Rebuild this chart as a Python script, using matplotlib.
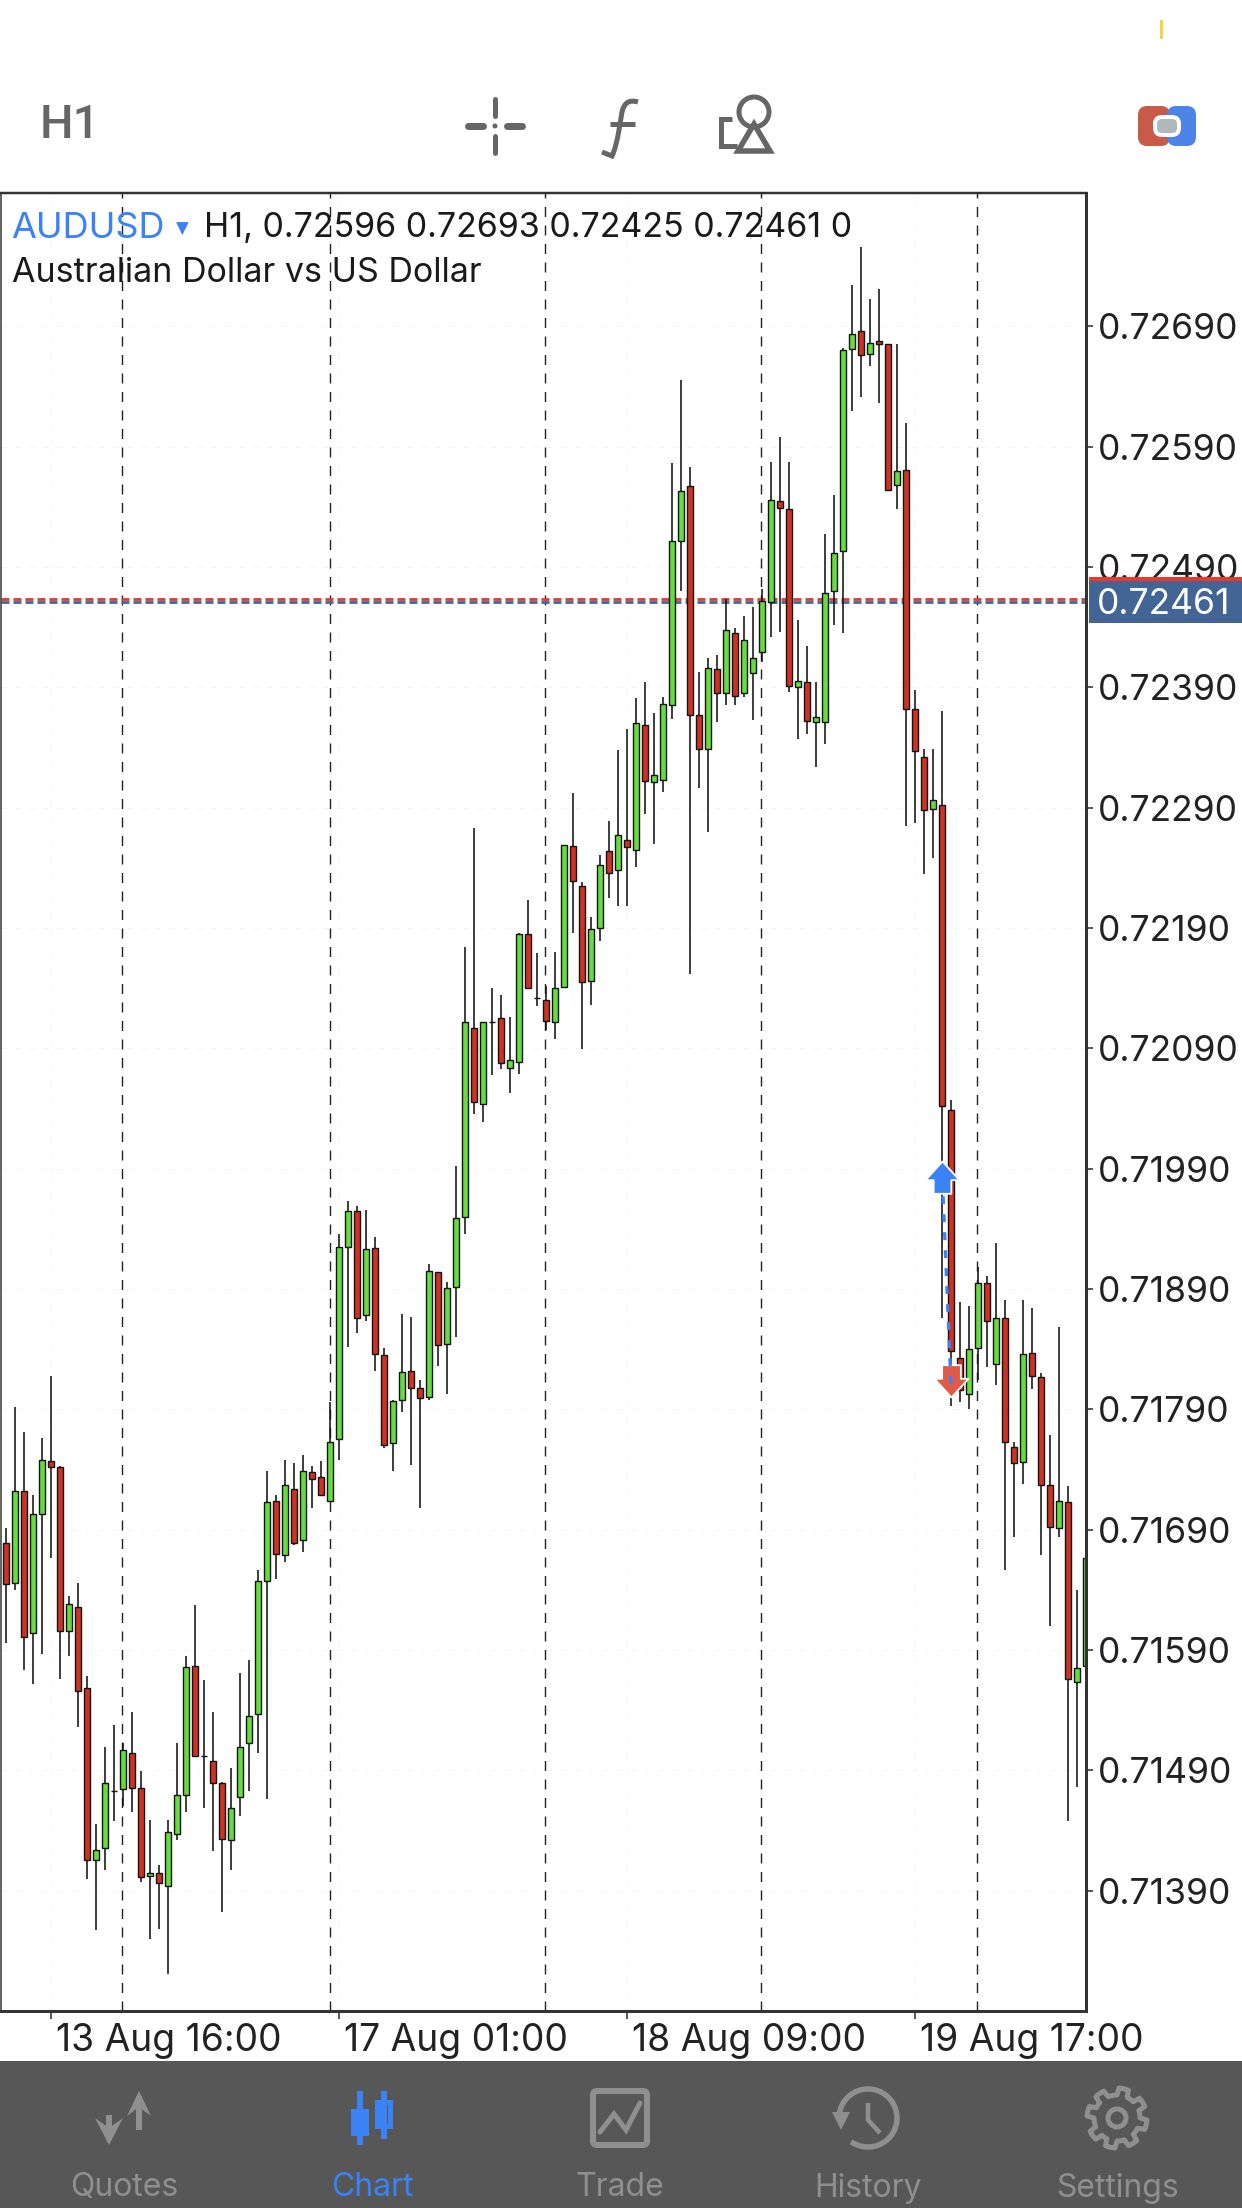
import numpy as np
import matplotlib
matplotlib.use("Agg")
import matplotlib.pyplot as plt
from matplotlib.path import Path
from matplotlib.patches import Rectangle, FancyBboxPatch, Circle, Polygon, PathPatch

plt.rcParams['font.family'] = ['Inter', 'DejaVu Sans']
plt.rcParams['lines.scale_dashes'] = False

PX = 0.72  # one image pixel in points at dpi 100

# candle prices in 1/100000 of a dollar
opens = [71679, 71646, 71722, 71604, 71703, 71747, 71742, 71606, 71626, 71558,
         71415, 71425, 71473, 71474, 71504, 71475, 71402, 71405, 71394, 71437,
         71469, 71577, 71502, 71498, 71479, 71432, 71468, 71513, 71537, 71647,
         71714, 71669, 71724, 71681, 71738, 71734, 71714, 71765, 71925, 71955,
         71868, 71924, 71835, 71762, 71798, 71822, 71808, 71800, 71904, 71844,
         71892, 71950, 72107, 72044, 72112, 72115, 72074, 72079, 72185, 72132,
         72130, 72112, 72141, 72258, 72225, 72146, 72190, 72254, 72238, 72263,
         72255, 72359, 72311, 72313, 72375, 72512, 72557, 72367, 72339, 72405,
         72385, 72435, 72385, 72402, 72419, 72461, 72545, 72538, 72390, 72394,
         72361, 72361, 72470, 72503, 72671, 72686, 72667, 72678, 72675, 72558,
         72571, 72372, 72332, 72289, 72292, 72039, 71833, 71803, 71841, 71895,
         71828, 71866, 71759, 71746, 71837, 71817, 71727, 71691, 71713, 71563,
         71577]
closes = [71645, 71722, 71601, 71703, 71748, 71742, 71606, 71628, 71556, 71415,
          71424, 71479, 71473, 71507, 71475, 71401, 71405, 71396, 71439, 71469,
          71576, 71502, 71502, 71479, 71433, 71459, 71509, 71535, 71647, 71713,
          71670, 71727, 71679, 71739, 71732, 71719, 71763, 71925, 71955, 71866,
          71923, 71836, 71760, 71797, 71821, 71808, 71799, 71905, 71843, 71891,
          71949, 72112, 72045, 72112, 72112, 72078, 72080, 72185, 72140, 72132,
          72113, 72140, 72259, 72229, 72145, 72189, 72242, 72236, 72267, 72257,
          72360, 72312, 72317, 72376, 72512, 72553, 72367, 72339, 72406, 72385,
          72438, 72383, 72429, 72414, 72462, 72546, 72539, 72391, 72395, 72362,
          72365, 72468, 72502, 72670, 72684, 72666, 72676, 72675, 72554, 72570,
          72372, 72337, 72288, 72296, 72042, 71838, 71806, 71840, 71895, 71863,
          71866, 71763, 71745, 71836, 71818, 71727, 71692, 71714, 71566, 71575,
          71666]
highs = [71691, 71792, 71771, 71719, 71766, 71818, 71743, 71635, 71646, 71568,
         71445, 71509, 71528, 71513, 71538, 71489, 71449, 71411, 71449, 71513,
         71585, 71627, 71565, 71538, 71480, 71492, 71571, 71582, 71656, 71739,
         71719, 71748, 71745, 71752, 71743, 71747, 71796, 71936, 71963, 71959,
         71956, 71933, 71841, 71798, 71869, 71867, 71814, 71911, 71904, 71896,
         71992, 72174, 72273, 72112, 72140, 72134, 72116, 72186, 72213, 72169,
         72142, 72170, 72259, 72302, 72228, 72199, 72251, 72279, 72338, 72355,
         72381, 72394, 72369, 72382, 72576, 72645, 72573, 72403, 72414, 72417,
         72463, 72439, 72449, 72457, 72472, 72577, 72598, 72577, 72446, 72424,
         72394, 72517, 72550, 72672, 72724, 72756, 72713, 72721, 72675, 72675,
         72610, 72388, 72339, 72339, 72370, 72047, 71879, 71876, 71908, 71901,
         71928, 71881, 71763, 71881, 71874, 71820, 71769, 71858, 71726, 71640,
         71666]
lows = [71596, 71640, 71573, 71562, 71587, 71666, 71566, 71585, 71526, 71400,
        71357, 71407, 71448, 71460, 71455, 71397, 71350, 71358, 71321, 71432,
        71455, 71502, 71459, 71423, 71372, 71407, 71452, 71473, 71504, 71466,
        71649, 71663, 71677, 71671, 71708, 71718, 71714, 71748, 71842, 71853,
        71863, 71822, 71758, 71739, 71788, 71744, 71708, 71798, 71826, 71803,
        71850, 71936, 72035, 72029, 72068, 72073, 72053, 72069, 72140, 72125,
        72105, 72098, 72141, 72186, 72089, 72126, 72179, 72215, 72208, 72208,
        72241, 72285, 72260, 72303, 72364, 72470, 72152, 72306, 72270, 72361,
        72375, 72375, 72382, 72363, 72411, 72432, 72436, 72386, 72347, 72351,
        72324, 72343, 72442, 72435, 72620, 72631, 72657, 72626, 72554, 72538,
        72275, 72277, 72235, 72248, 71866, 71793, 71796, 71790, 71814, 71825,
        71810, 71656, 71684, 71728, 71807, 71669, 71610, 71684, 71448, 71476,
        71577]

y_ticks = [0.71390, 0.71490, 0.71590, 0.71690, 0.71790, 0.71890, 0.71990,
           0.72090, 0.72190, 0.72290, 0.72390, 0.72490, 0.72590, 0.72690]
x_tick_bars = [5, 37, 69, 101]
x_tick_labels = ['13 Aug 16:00', '17 Aug 01:00', '18 Aug 09:00', '19 Aug 17:00']
separator_bars = [12.9, 35.93, 59.89, 83.89, 107.89]

bid = 0.72461
ask = 0.72463

# the closed trade shown on the chart
trade_bars = [104, 105]
trade_marks = [0.71982, 0.71814]
trade_path = [0.71982, 0.71804]

tab_names = ['Quotes', 'Chart', 'Trade', 'History', 'Settings']
tab_x = [124, 372, 620, 868, 1117]

GREEN = '#66dd3c'
RED = '#cc3322'
EDGE = '#141414'
BLUE = '#3b82f6'
GREY = '#8f8f8f'
ICON = '#666666'

W, H = 1242, 2208
fig = plt.figure(figsize=(W / 100, H / 100), dpi=100, facecolor='white')

# chart area
L, R, T, B = 0.5, 1085.7, 193, 2011
ax = fig.add_axes([L / W, 1 - B / H, (R - L) / W, (B - T) / H], zorder=2)
ax.set_xlim((L - 6.33) / 9, (R - 6.33) / 9)
ax.set_ylim(0.712899, 0.728008)

o = np.array(opens) / 1e5
c = np.array(closes) / 1e5
h = np.array(highs) / 1e5
l = np.array(lows) / 1e5
idx = np.arange(len(o))
colors = [GREEN if cl >= op else RED for op, cl in zip(o, c)]

ax.set_axisbelow(True)
ax.grid(True, color='#f5f5f5', linewidth=1 * PX, linestyle=(0, (6 * PX, 8 * PX)))

for s in separator_bars:
    ax.axvline(s, color='#222222', linewidth=1.4 * PX,
               linestyle=(0, (10 * PX, 8.5 * PX)), zorder=1)
ax.axhline(ask, color='#e8392b', linewidth=2.8 * PX,
           linestyle=(0, (8 * PX, 4 * PX)), zorder=1.2)
ax.axhline(bid, color='#3d6a9e', linewidth=2.8 * PX,
           linestyle=(0, (8 * PX, 4 * PX)), zorder=1.1)

ax.vlines(idx, l, h, color=EDGE, linewidth=1.6 * PX, zorder=3)
ax.bar(idx, c - o, bottom=o, width=0.68, color=colors, edgecolor=EDGE,
       linewidth=1.4 * PX, zorder=4)

# trade arrows with the dotted link
arrow_up = Path([(0, 1), (1, -0.1), (0.52, -0.1), (0.52, -0.9), (-0.52, -0.9),
                 (-0.52, -0.1), (-1, -0.1), (0, 1)], closed=True)
arrow_down = Path([(0, -1), (1, 0.1), (0.55, 0.1), (0.55, 0.9), (-0.55, 0.9),
                   (-0.55, 0.1), (-1, 0.1), (0, -1)], closed=True)
ax.plot(trade_bars[0], trade_marks[0], marker=arrow_up, ms=34 * PX, mfc=BLUE,
        mec='white', mew=1.8 * PX, zorder=5, linestyle='none')
ax.plot(trade_bars[1], trade_marks[1], marker=arrow_down, ms=34 * PX, mfc='#e05a47',
        mec='white', mew=1.8 * PX, zorder=5, linestyle='none')
ax.plot(trade_bars, trade_path, color=BLUE, linewidth=3.3 * PX,
        linestyle=(0, (8 * PX, 10 * PX)), zorder=6)

for side, w in [('top', 2.5), ('right', 3), ('bottom', 3), ('left', 1.5)]:
    ax.spines[side].set_linewidth(w * PX)
    ax.spines[side].set_color('#333333')
    ax.spines[side].set_zorder(8)

ax.yaxis.tick_right()
ax.set_yticks(y_ticks)
ax.set_yticklabels([f'{v:.5f}' for v in y_ticks])
ax.tick_params(axis='y', length=7 * PX, width=1.6 * PX, color='#333333', pad=5 * PX,
               labelsize=25.5, labelcolor='#222222')
ax.set_xticks(x_tick_bars)
ax.set_xticklabels(x_tick_labels, ha='left')
ax.tick_params(axis='x', length=8 * PX, width=1.6 * PX, color='#333333', pad=4 * PX,
               labelsize=26.8, labelcolor='#222222')
offset = matplotlib.transforms.ScaledTranslation(5 / 100, 0, fig.dpi_scale_trans)
for t in ax.get_xticklabels():
    t.set_transform(t.get_transform() + offset)

# overlay in image pixels for the app's chrome
ui = fig.add_axes([0, 0, 1, 1], zorder=3)
ui.set_xlim(0, W)
ui.set_ylim(H, 0)
ui.axis('off')
ui.patch.set_alpha(0)


def seg(points, color=ICON, lw=5, cap='round'):
    xs, ys = zip(*points)
    ui.plot(xs, ys, color=color, linewidth=lw * PX, solid_capstyle=cap,
            solid_joinstyle='miter')


# header text
ui.text(11, 228, 'AUDUSD', color=BLUE, fontsize=26, va='center', ha='left')
ui.text(176, 229, '▼', color=BLUE, fontsize=12, va='center', ha='left',
        family=['DejaVu Sans'])
ui.text(204, 228, 'H1, 0.72596 0.72693 0.72425 0.72461 0', color='#1a1a1a',
        fontsize=24.5, va='center', ha='left')
ui.text(12, 273, 'Australian Dollar vs US Dollar', color='#1a1a1a', fontsize=24.5,
        va='center', ha='left')

# last price box
ui.add_patch(Rectangle((1089, 581), W - 1089, 42, color='#426595', lw=0, zorder=4))
ui.add_patch(Rectangle((1089, 577), W - 1089, 4, color='#e9392a', lw=0, zorder=4))
ui.text(1097, 604, f'{bid:.5f}', color='white', fontsize=25.5, va='center', ha='left',
        zorder=5)

# top toolbar
ui.add_patch(Rectangle((1160, 20), 3, 19, color='#f5d442', lw=0))
ui.text(40, 125, 'H1', color=ICON, fontsize=34, fontweight='medium', va='center',
        ha='left', family=['Roboto'])

seg([(468, 126), (483, 126)], lw=7)
seg([(507, 126), (522, 126)], lw=7)
seg([(495, 99), (495, 116)], lw=5)
seg([(495, 136), (495, 153)], lw=5)
ui.add_patch(Circle((495, 126), 2.5, color=ICON, lw=0))

f_path = Path([(638, 102), (625, 98), (622, 112), (619, 130), (616, 148), (612, 156), (602, 152)],
              [Path.MOVETO, Path.CURVE3, Path.CURVE3, Path.LINETO, Path.CURVE3, Path.CURVE3,
               Path.LINETO])
ui.add_patch(PathPatch(f_path, fill=False, edgecolor=ICON, linewidth=5 * PX))
seg([(610, 124), (635, 124)], lw=5, cap='butt')

ui.add_patch(Circle((754, 112), 15, fill=False, edgecolor=ICON, linewidth=5 * PX))
ui.add_patch(Polygon([(754, 124), (738, 151), (770, 151)], fill=False, edgecolor=ICON,
                     linewidth=5.5 * PX, joinstyle='miter'))
seg([(732, 119), (721, 119), (721, 146), (737, 146)], lw=5, cap='butt')

ui.add_patch(FancyBboxPatch((1141, 109), 26, 34, boxstyle='round,pad=0,rounding_size=6',
                            fc='#c85a4a', ec='#c85a4a', lw=6 * PX))
ui.add_patch(FancyBboxPatch((1170, 109), 23, 34, boxstyle='round,pad=0,rounding_size=6',
                            fc='#4d84e8', ec='#4d84e8', lw=6 * PX))
ui.add_patch(FancyBboxPatch((1155, 117), 24, 18, boxstyle='round,pad=0,rounding_size=7',
                            fc='#b0b8bc', ec='white', lw=4 * PX))

# bottom tab bar
ui.add_patch(Rectangle((0, 2061), W, H - 2061, color='#575757', lw=0))
for name, x in zip(tab_names, tab_x):
    ui.text(x, 2188, name, color=BLUE if name == 'Chart' else GREY, fontsize=23,
            va='center', ha='center')

# quotes icon
seg([(139, 2130), (139, 2096)], color=GREY, lw=6, cap='butt')
ui.add_patch(Polygon([(139, 2091), (127, 2116), (139, 2107), (151, 2116)], color=GREY, lw=0))
seg([(109, 2115), (109, 2140)], color=GREY, lw=6, cap='butt')
ui.add_patch(Polygon([(109, 2145), (95, 2118), (109, 2128), (123, 2118)], color=GREY, lw=0))

# chart icon
seg([(360, 2091), (360, 2145)], color=BLUE, lw=6, cap='butt')
ui.add_patch(Rectangle((351, 2109), 18, 27, color=BLUE, lw=0))
seg([(384, 2091), (384, 2139)], color=BLUE, lw=6, cap='butt')
ui.add_patch(Rectangle((375, 2100), 18, 29, color=BLUE, lw=0))
ui.add_patch(Rectangle((381, 2105), 7, 19, color='#575757', lw=0))

# trade icon
ui.add_patch(FancyBboxPatch((593, 2091), 54, 54, boxstyle='round,pad=0,rounding_size=4',
                            fc='none', ec=GREY, lw=6 * PX))
seg([(600, 2132), (614, 2114), (626, 2130), (640, 2103)], color=GREY, lw=5)

# history icon
t = np.radians(np.arange(180, 481, 5))
ui.plot(868 + 29 * np.cos(t), 2118 + 29 * np.sin(t), color=GREY, linewidth=5.5 * PX)
ui.add_patch(Polygon([(832, 2112), (850, 2112), (841, 2130)], color=GREY, lw=0))
seg([(868, 2103), (868, 2120), (880, 2133)], color=GREY, lw=4.5, cap='butt')

# settings icon
angles = np.linspace(0, 2 * np.pi, 97)
radius = np.where(((angles + np.pi / 8) % (np.pi / 4)) < np.pi / 8, 30, 23)
ui.add_patch(Polygon(np.c_[1117 + radius * np.sin(angles), 2118 + radius * np.cos(angles)],
                     fill=False, edgecolor=GREY, linewidth=5 * PX, joinstyle='round'))
ui.add_patch(Circle((1117, 2118), 9, fill=False, edgecolor=GREY, linewidth=5 * PX))

fig.savefig('out.png', dpi=100, facecolor='white')
